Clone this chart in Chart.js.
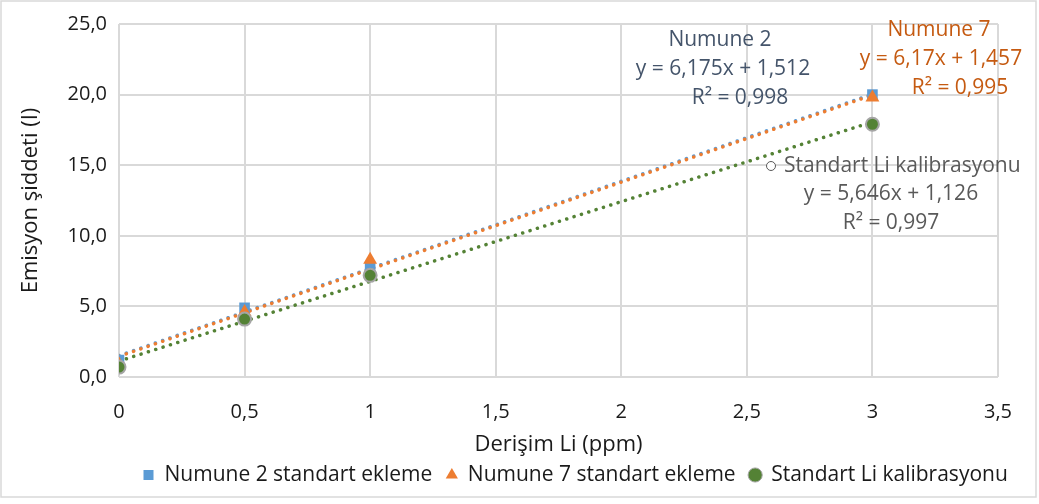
<!DOCTYPE html>
<html><head><meta charset="utf-8">
<script src="https://cdn.jsdelivr.net/npm/chart.js@4.4.1/dist/chart.umd.min.js"></script>
<style>
html,body{margin:0;padding:0;background:#fff;}
#wrap{width:1039px;height:504px;position:relative;}
</style></head>
<body><div id="wrap"><canvas id="c" width="1039" height="504"></canvas></div>
<script>
const xValues = [0, 0.5, 1, 3];
const numune2 = [1.2, 4.9, 7.7, 20.0];
const numune7 = [0.9, 4.6, 8.3, 19.8];
const standart = [0.7, 4.1, 7.2, 17.9];
// trendline coefficients as printed on the chart [slope, intercept]
const trend2 = [6.175, 1.512];
const trend7 = [6.17, 1.457];
const trendStd = [5.646, 1.126];
const trendRange = [0, 3];
const seriesNames = ['Numune 2 standart ekleme', 'Numune 7 standart ekleme', 'Standart Li kalibrasyonu'];
const xTicks = [0, 0.5, 1, 1.5, 2, 2.5, 3, 3.5];
const yTicks = [0, 5, 10, 15, 20, 25];

const pts = ys => xValues.map((x, i) => ({x, y: ys[i]}));
const line = c => trendRange.map(x => ({x, y: c[0] * x + c[1]}));

const FONT = "'Open Sans', 'Noto Sans', sans-serif";
const fmt = v => String(v).replace('.', ',');
const TXT = '#1a1a1a';
const PLOT_BOTTOM = 377;

const annot = {
  id: 'annot',
  afterLayout(chart) {
    const L = chart.legend;
    if (!L) return;
    const pad = L.options.labels.padding;
    const lw = L.lineWidths ? L.lineWidths[0] : 0;
    // start of legend row at x = 143, row centred on y = 473
    const delta = 143 - (L.left + pad + L.right - lw) / 2;
    L.left += delta;
    L.right += delta;
    const dy = 473 - (L.top + L.height / 2);
    L.top += dy;
    L.bottom += dy;
  },
  afterDraw(chart) {
    const ctx = chart.ctx;
    ctx.save();
    ctx.textBaseline = 'middle';
    ctx.textAlign = 'center';
    ctx.font = "21px " + FONT;
    ctx.fillStyle = '#44546A';
    ctx.fillText('Numune 2', 720, 40);
    ctx.fillText('y = 6,175x + 1,512', 723, 69);
    ctx.fillText('R² = 0,998', 740, 98);
    ctx.fillStyle = '#C55A11';
    ctx.fillText('Numune 7', 939, 30);
    ctx.fillText('y = 6,17x + 1,457', 941, 59);
    ctx.fillText('R² = 0,995', 960, 88);
    ctx.fillStyle = '#595959';
    ctx.textAlign = 'left';
    ctx.fillText('Standart Li kalibrasyonu', 784, 166);
    ctx.textAlign = 'center';
    ctx.fillText('y = 5,646x + 1,126', 891, 194);
    ctx.fillText('R² = 0,997', 891, 223);
    ctx.beginPath();
    ctx.arc(771, 166, 4.5, 0, Math.PI * 2);
    ctx.strokeStyle = '#595959';
    ctx.lineWidth = 1;
    ctx.fillStyle = '#fff';
    ctx.fill();
    ctx.stroke();
    // outer border
    ctx.strokeStyle = '#d9d9d9';
    ctx.lineWidth = 1.5;
    ctx.strokeRect(1, 1, 1035, 496);
    ctx.restore();
  }
};

const dotted = {borderWidth: 3.5, borderDash: [0.1, 7.6], borderCapStyle: 'round', pointRadius: 0, showLine: true, fill: false};

new Chart(document.getElementById('c'), {
  type: 'scatter',
  data: {
    datasets: [
      {label: seriesNames[0], data: pts(numune2), pointStyle: 'rect', pointRadius: 7.5, backgroundColor: '#5B9BD5', borderColor: '#5B9BD5', borderWidth: 0, order: 3},
      {label: seriesNames[1], data: pts(numune7), pointStyle: 'triangle', pointRadius: 8, backgroundColor: '#ED7D31', borderColor: '#ED7D31', borderWidth: 0, order: 2},
      {label: seriesNames[2], data: pts(standart), pointStyle: 'circle', pointRadius: 6.5, backgroundColor: '#548235', borderColor: '#A5A5A5', borderWidth: 2, order: 1},
      Object.assign({label: 't2', data: line(trend2), borderColor: '#5B9BD5', order: 6}, dotted),
      Object.assign({label: 't7', data: line(trend7), borderColor: '#ED7D31', order: 5}, dotted),
      Object.assign({label: 'ts', data: line(trendStd), borderColor: '#548235', order: 4}, dotted)
    ]
  },
  options: {
    responsive: false,
    animation: false,
    devicePixelRatio: 1,
    layout: {padding: {left: 10, right: 41, top: 20, bottom: 0}},
    plugins: {
      tooltip: {enabled: false},
      legend: {
        position: 'bottom',
        labels: {
          filter: item => item.datasetIndex < 3,
          sort: (a, b) => a.datasetIndex - b.datasetIndex,
          generateLabels: chart => Chart.defaults.plugins.legend.labels.generateLabels(chart)
            .map(it => Object.assign(it, {lineWidth: it.datasetIndex === 2 ? 1 : 0})),
          usePointStyle: true,
          boxWidth: 11,
          boxHeight: 10,
          color: TXT,
          font: {family: FONT, size: 21},
          padding: 14
        }
      }
    },
    scales: {
      x: {
        type: 'linear', min: 0, max: 3.5,
        afterBuildTicks: s => { s.ticks = xTicks.map(v => ({value: v})); },
        afterFit: s => {
          const lh = s.chart.legend ? s.chart.legend.height : 50;
          s.height = 504 - lh - PLOT_BOTTOM;
        },
        ticks: {callback: v => fmt(v), color: TXT, font: {family: FONT, size: 20}, padding: 23},
        grid: {color: '#d9d9d9', lineWidth: 2, drawTicks: false},
        border: {display: false},
        title: {display: true, text: 'Derişim Li (ppm)', color: TXT, font: {family: FONT, size: 22}, padding: {top: 0, bottom: 1}}
      },
      y: {
        type: 'linear', min: 0, max: 25,
        afterBuildTicks: s => { s.ticks = yTicks.map(v => ({value: v})); },
        afterFit: s => { s.width = 109; },
        ticks: {callback: v => v.toFixed(1).replace('.', ','), color: TXT, font: {family: FONT, size: 20}, padding: 12},
        grid: {color: '#d9d9d9', lineWidth: 2, drawTicks: false},
        border: {display: false},
        title: {display: true, text: 'Emisyon şiddeti (I)', color: TXT, font: {family: FONT, size: 22}, padding: {top: 8, bottom: 0}}
      }
    }
  },
  plugins: [annot]
});
</script></body></html>
